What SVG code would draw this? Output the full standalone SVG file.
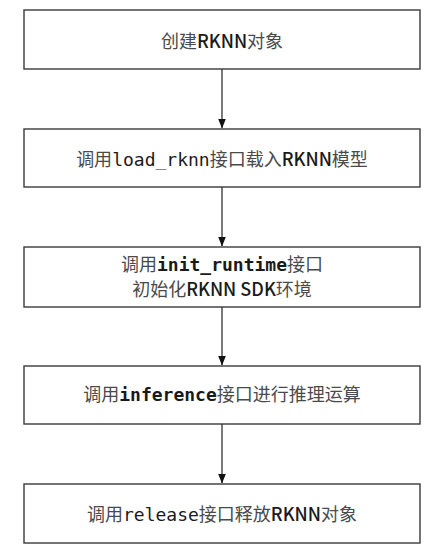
<svg xmlns="http://www.w3.org/2000/svg" width="446" height="560" viewBox="0 0 446 560">
<defs>
<marker id="arrow" markerWidth="10" markerHeight="8" refX="9.5" refY="4" orient="auto" markerUnits="userSpaceOnUse" viewBox="0 0 10 8">
<path d="M0,0 L10,4 L0,8 Z" fill="#111"/>
</marker>
<style>
.box{fill:#fff;stroke:#3a3a3a;stroke-width:1.4}
.t{font-family:"Noto Sans CJK SC","DejaVu Sans",sans-serif;font-size:18px;fill:#4a4a4a;text-anchor:middle}
.c{font-family:"DejaVu Sans Mono",monospace;fill:#1a1a1a}
.b{font-weight:bold}
.k{font-family:"Noto Sans CJK SC","DejaVu Sans",sans-serif;font-weight:500;fill:#1a1a1a}
.edge{stroke:#333;stroke-width:1.3;fill:none}
</style>
</defs>
<rect width="446" height="560" fill="#fff"/>
<g id="n1">
<rect class="box" x="24" y="10" width="396" height="59"/>
<text class="t" x="222" y="48">创建<tspan class="k">RKNN</tspan>对象</text>
</g>
<g id="n2">
<rect class="box" x="24" y="129" width="396" height="58"/>
<text class="t" x="222" y="166">调用<tspan class="c">load_rknn</tspan>接口载入<tspan class="k">RKNN</tspan>模型</text>
</g>
<g id="n3">
<rect class="box" x="24" y="247" width="396" height="60"/>
<text class="t" x="222" y="271">调用<tspan class="c b">init_runtime</tspan>接口</text>
<text class="t" x="222" y="296">初始化<tspan class="k">RKNN SDK</tspan>环境</text>
</g>
<g id="n4">
<rect class="box" x="24" y="366" width="396" height="58"/>
<text class="t" x="222" y="401">调用<tspan class="c b">inference</tspan>接口进行推理运算</text>
</g>
<g id="n5">
<rect class="box" x="24" y="484" width="396" height="59"/>
<text class="t" x="222" y="521">调用<tspan class="c">release</tspan>接口释放<tspan class="k">RKNN</tspan>对象</text>
</g>
<g id="edges">
<line class="edge" x1="222" y1="69" x2="222" y2="128" marker-end="url(#arrow)"/>
<line class="edge" x1="222" y1="187" x2="222" y2="246" marker-end="url(#arrow)"/>
<line class="edge" x1="222" y1="307" x2="222" y2="365" marker-end="url(#arrow)"/>
<line class="edge" x1="222" y1="424" x2="222" y2="483" marker-end="url(#arrow)"/>
</g>
</svg>
